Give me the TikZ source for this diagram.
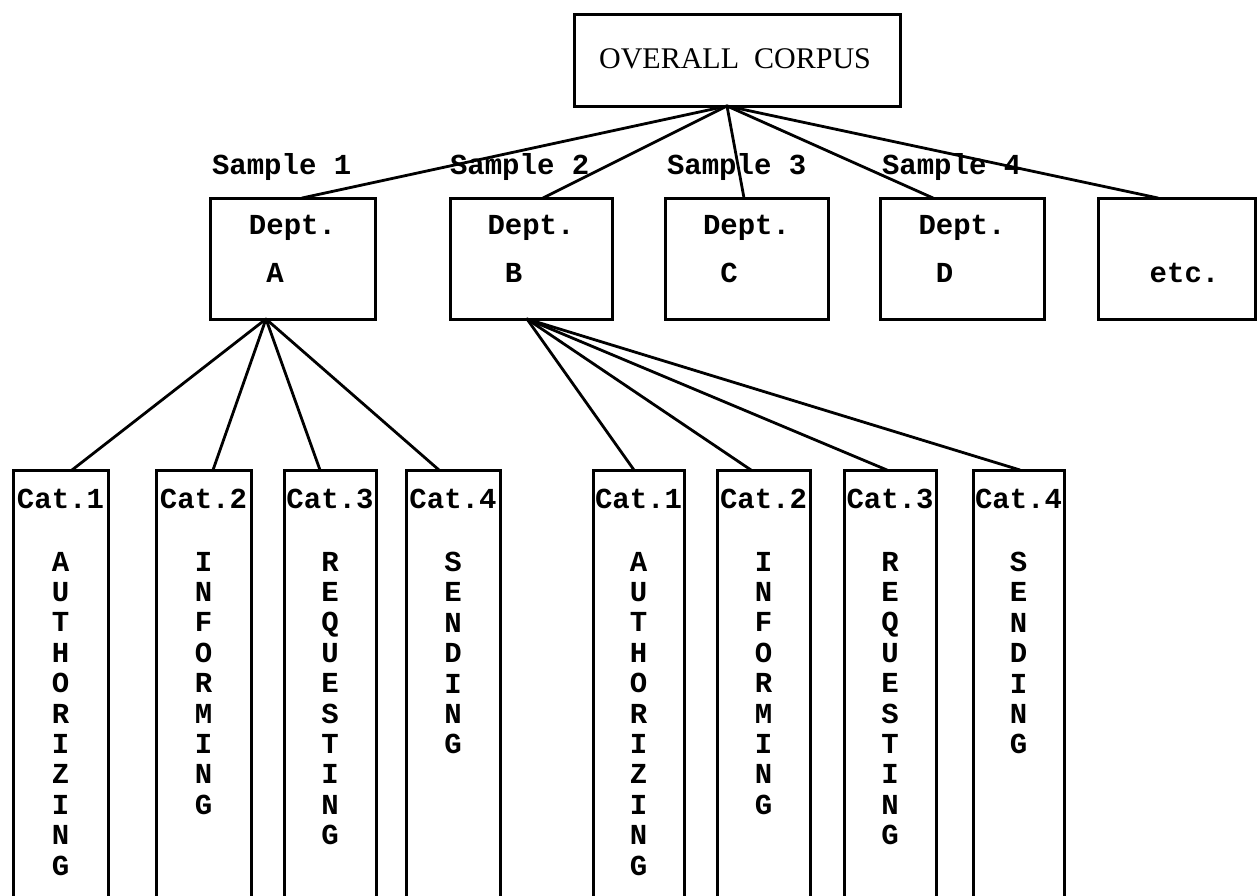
\documentclass[tikz,border=0pt]{standalone}
\usepackage{fontspec}
\newfontfamily\twfont[BoldFont={Liberation Mono Bold}]{Liberation Mono}
\newfontfamily\serfont{Liberation Serif}
\begin{document}
\begin{tikzpicture}[x=1pt,y=-1pt,
  box/.style={draw, rectangle, inner sep=0pt, outer sep=0pt, line width=3pt},
  catbox/.style={box, minimum height=445pt},
  tw/.style={inner sep=0pt, outer sep=0pt, font=\twfont\bfseries\fontsize{29}{30.4}\selectfont},
  lbl/.style={tw, anchor=base},
  vert/.style={tw, align=center, anchor=north},
  conn/.style={line width=2.8pt, line cap=round}]
\useasboundingbox (0,0) rectangle (1257,895);
\clip (0,0) rectangle (1257,895);

% top box
\node[box, minimum width=326pt, minimum height=92pt] (corpus) at (737,60) {};
\node[inner sep=0pt, anchor=base, font=\serfont\fontsize{30}{30}\selectfont] (corpustxt) at (735,68) {OVERALL\ \ CORPUS};
\coordinate (hub) at ([xshift=-10pt]corpus.south);

% sample labels
\node[tw, anchor=base west] (s1) at (212,174) {Sample 1};
\node[tw, anchor=base west] (s2) at (450,174) {Sample 2};
\node[tw, anchor=base west] (s3) at (667,174) {Sample 3};
\node[tw, anchor=base west] (s4) at (882,174) {Sample 4};

% department boxes
\node[box, minimum width=165pt, minimum height=121pt] (dA) at (292.5,258.5) {};
\node[box, minimum width=162pt, minimum height=121pt] (dB) at (531,258.5) {};
\node[box, minimum width=163pt, minimum height=121pt] (dC) at (746.5,258.5) {};
\node[box, minimum width=164pt, minimum height=121pt] (dD) at (962,258.5) {};
\node[box, minimum width=157pt, minimum height=121pt] (dE) at (1176.5,258.5) {};

\node[lbl] (dA1) at (292.5,234) {Dept.};
\node[tw, anchor=base west] (dA2) at ([yshift=-48pt]dA1.base west) {\phantom{D}A};
\node[lbl] (dB1) at (531,234) {Dept.};
\node[tw, anchor=base west] (dB2) at ([yshift=-48pt]dB1.base west) {\phantom{D}B};
\node[lbl] (dC1) at (746.5,234) {Dept.};
\node[tw, anchor=base west] (dC2) at ([yshift=-48pt]dC1.base west) {\phantom{D}C};
\node[lbl] (dD1) at (962,234) {Dept.};
\node[tw, anchor=base west] (dD2) at ([yshift=-48pt]dD1.base west) {\phantom{D}D};
\node[lbl] (dE1) at (1184.5,282) {etc.};

\coordinate (hubA) at ([xshift=-26.5pt]dA.south);
\coordinate (hubB) at ([xshift=-4pt]dB.south);

% category boxes, group A
\node[catbox, minimum width=95pt] (a1) at (60.5,692.5) {};
\node[catbox, minimum width=95pt] (a2) at (203.5,692.5) {};
\node[catbox, minimum width=92pt] (a3) at (330,692.5) {};
\node[catbox, minimum width=94pt] (a4) at (453,692.5) {};
% category boxes, group B
\node[catbox, minimum width=91pt] (b1) at (638.5,692.5) {};
\node[catbox, minimum width=93pt] (b2) at (763.5,692.5) {};
\node[catbox, minimum width=92pt] (b3) at (890,692.5) {};
\node[catbox, minimum width=91pt] (b4) at (1018.5,692.5) {};

% category titles
\node[lbl] (a1t) at (60.5,508) {Cat.1};
\node[lbl] (a2t) at (203.5,508) {Cat.2};
\node[lbl] (a3t) at (330,508) {Cat.3};
\node[lbl] (a4t) at (453,508) {Cat.4};
\node[lbl] (b1t) at (638.5,508) {Cat.1};
\node[lbl] (b2t) at (763.5,508) {Cat.2};
\node[lbl] (b3t) at (890,508) {Cat.3};
\node[lbl] (b4t) at (1018.5,508) {Cat.4};

% vertical words
\node[vert] (a1v) at (60.5,552) {A\\U\\T\\H\\O\\R\\I\\Z\\I\\N\\G};
\node[vert] (a2v) at (203.5,552) {I\\N\\F\\O\\R\\M\\I\\N\\G};
\node[vert] (a3v) at (330,552) {R\\E\\Q\\U\\E\\S\\T\\I\\N\\G};
\node[vert] (a4v) at (453,552) {S\\E\\N\\D\\I\\N\\G};
\node[vert] (b1v) at (638.5,552) {A\\U\\T\\H\\O\\R\\I\\Z\\I\\N\\G};
\node[vert] (b2v) at (763.5,552) {I\\N\\F\\O\\R\\M\\I\\N\\G};
\node[vert] (b3v) at (890,552) {R\\E\\Q\\U\\E\\S\\T\\I\\N\\G};
\node[vert] (b4v) at (1018.5,552) {S\\E\\N\\D\\I\\N\\G};

% connectors: corpus to departments
\draw[conn] (hub) -- ([xshift=9.5pt]dA.north);
\draw[conn] (hub) -- ([xshift=12pt]dB.north);
\draw[conn] (hub) -- ([xshift=-2.5pt]dC.north);
\draw[conn] (hub) -- ([xshift=-29pt]dD.north);
\draw[conn] (hub) -- ([xshift=-18.5pt]dE.north);

% connectors: Dept A to categories
\draw[conn] (hubA) -- ([xshift=11.5pt]a1.north);
\draw[conn] (hubA) -- ([xshift=9.5pt]a2.north);
\draw[conn] (hubA) -- ([xshift=-10pt]a3.north);
\draw[conn] (hubA) -- ([xshift=-14pt]a4.north);

% connectors: Dept B to categories
\draw[conn] (hubB) -- ([xshift=-4.5pt]b1.north);
\draw[conn] (hubB) -- ([xshift=-12.5pt]b2.north);
\draw[conn] (hubB) -- ([xshift=-3pt]b3.north);
\draw[conn] (hubB) -- ([xshift=1.5pt]b4.north);
\end{tikzpicture}
\end{document}
